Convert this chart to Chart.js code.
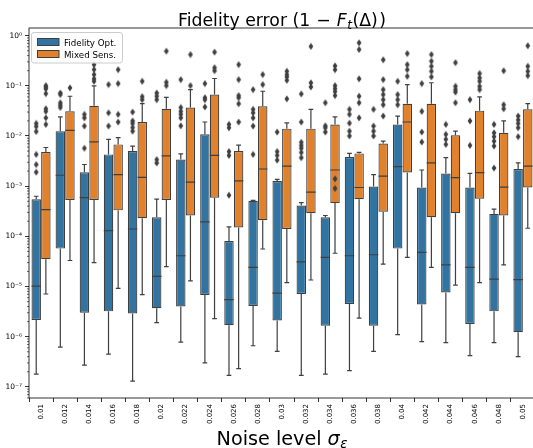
<!DOCTYPE html>
<html>
<head>
<meta charset="utf-8">
<script src="https://cdn.jsdelivr.net/npm/chart.js@4.4.1/dist/chart.umd.min.js"></script>
<style>
  html, body { margin: 0; padding: 0; background: #fff; overflow: hidden; }
  canvas { display: block; }
</style>
</head>
<body>
<canvas id="fidelityChart" width="536" height="448"></canvas>
<script>
// Noise levels (categories)
const noiseLevels = ["0.01", "0.012", "0.014", "0.016", "0.018", "0.02", "0.022", "0.024", "0.026", "0.028",
  "0.03", "0.032", "0.034", "0.036", "0.038", "0.04", "0.042", "0.044", "0.046", "0.048", "0.05"];

// Fidelity Opt. - box statistics
const fidLow = [1.8e-7, 6.2e-7, 2.7e-7, 4.5e-7, 1.3e-7, 1.9e-6, 7.8e-7, 3.0e-7, 1.7e-7, 6.6e-7,
  5.1e-7, 1.7e-7, 1.8e-7, 2.1e-7, 5.1e-7, 1.1e-6, 8.0e-7, 7.6e-7, 4.2e-7, 7.6e-7, 4.0e-7];
const fidQ1 = [2.15e-6, 5.7e-5, 3.0e-6, 3.2e-6, 2.9e-6, 3.7e-6, 4.0e-6, 6.8e-6, 1.7e-6, 4.1e-6,
  2.1e-6, 7.1e-6, 1.66e-6, 4.5e-6, 1.66e-6, 5.7e-5, 4.4e-6, 7.6e-6, 1.8e-6, 3.2e-6, 1.23e-6];
const fidMed = [1.02e-5, 1.65e-3, 5.9e-4, 1.3e-4, 1.4e-4, 1.6e-5, 4.1e-5, 1.95e-4, 5.5e-6, 2.4e-5,
  7.4e-6, 3.1e-5, 3.8e-5, 4.1e-5, 4.3e-5, 2.45e-3, 4.8e-5, 2.7e-5, 2.4e-5, 1.4e-5, 1.37e-5];
const fidQ3 = [5.5e-4, 0.0125, 1.9e-3, 4.3e-3, 5.0e-3, 2.4e-4, 3.4e-3, 0.0108, 8.1e-5, 5.1e-4,
  1.27e-3, 4.1e-4, 2.4e-4, 3.8e-3, 9.8e-4, 0.017, 9.4e-4, 1.78e-3, 9.4e-4, 2.8e-4, 2.2e-3];
const fidHigh = [6.3e-4, 0.024, 2.7e-3, 8.6e-3, 6.3e-3, 5.5e-4, 4.4e-3, 0.019, 1.55e-4, 5.2e-4,
  1.37e-3, 4.7e-4, 2.6e-4, 4.5e-3, 1.7e-3, 0.025, 2.1e-3, 3.7e-3, 1.8e-3, 3.5e-4, 2.9e-3];
const fidOutliers = [
  [0.0178, 0.0155, 0.0123, 0.0043, 0.0027, 0.0019],
  [0.072, 0.067, 0.046, 0.041, 0.037],
  [0.027, 0.023, 0.0158, 0.0057],
  [0.106, 0.029, 0.0158],
  [0.030, 0.020, 0.0178, 0.0148, 0.0125],
  [0.072, 0.062, 0.053, 0.0034, 0.0029],
  [0.133, 0.037, 0.031, 0.027, 0.023, 0.016],
  [0.111, 0.058, 0.053, 0.038],
  [0.017, 0.0146, 0.0049, 0.0041, 6.6e-4],
  [0.084, 0.034, 0.029, 0.023, 0.0158, 0.0043],
  [0.012, 0.0049, 0.0041, 0.0033],
  [0.069, 0.019, 0.0075, 0.0065, 0.0057, 0.0047, 0.0037],
  [0.046, 0.016, 0.0146, 0.012],
  [0.034, 0.027, 0.018, 0.0125, 0.010],
  [0.034, 0.0158, 0.0125, 0.010],
  [0.123, 0.067, 0.053, 0.042],
  [0.111, 0.031, 0.012, 0.0076],
  [0.017, 0.0108, 0.0086, 0.0068],
  [0.053, 0.020, 0.0065],
  [0.017, 0.0116, 0.0097, 0.0079, 0.0063, 0.0023],
  [0.025, 0.021, 0.0178, 0.0146, 0.0097]
];

// Mixed Sens. - box statistics
const mixLow = [7.1e-6, 3.3e-5, 3.0e-5, 9.2e-6, 6.9e-6, 2.5e-5, 1.3e-5, 2.3e-6, 2.3e-7, 5.6e-5,
  1.2e-5, 1.35e-5, 4.6e-5, 2.35e-6, 2.8e-5, 3.8e-5, 2.4e-5, 1.07e-5, 1.2e-5, 2.7e-5, 1.45e-4];
const mixQ1 = [3.5e-5, 5.3e-4, 5.3e-4, 3.3e-4, 2.3e-4, 5.3e-4, 2.6e-4, 5.9e-4, 1.5e-4, 2.1e-4,
  1.4e-4, 2.9e-4, 4.6e-4, 5.5e-4, 3.1e-4, 1.87e-3, 2.4e-4, 2.9e-4, 5.6e-4, 2.6e-4, 9.4e-4];
const mixMed = [3.4e-4, 0.0129, 7.6e-3, 1.7e-3, 1.5e-3, 4.0e-3, 1.2e-3, 4.1e-3, 1.27e-3, 2.2e-3,
  2.5e-3, 7.6e-4, 2.1e-3, 9.4e-4, 1.59e-3, 0.019, 2.9e-3, 1.48e-3, 1.87e-3, 9.6e-4, 2.5e-3];
const mixQ3 = [4.8e-3, 0.031, 0.040, 6.8e-3, 0.019, 0.035, 0.037, 0.067, 5.0e-3, 0.039,
  0.014, 0.014, 0.017, 4.5e-3, 7.1e-3, 0.044, 0.044, 0.0103, 0.032, 0.0116, 0.034];
const mixHigh = [5.9e-3, 0.062, 0.10, 9.3e-3, 0.044, 0.059, 0.084, 0.14, 6.6e-3, 0.078,
  0.0183, 0.034, 0.024, 4.7e-3, 7.9e-3, 0.106, 0.115, 0.0125, 0.060, 0.020, 0.044];
const mixOutliers = [
  [0.101, 0.095, 0.087, 0.070, 0.035, 0.031, 0.023, 0.017],
  [0.091],
  [0.265, 0.211, 0.168, 0.138, 0.123],
  [0.21, 0.111, 0.027, 0.019],
  [0.123, 0.061, 0.053],
  [0.49, 0.118, 0.101],
  [0.42, 0.101],
  [0.47, 0.23, 0.20],
  [0.265, 0.133, 0.064, 0.058, 0.044, 0.019],
  [0.168, 0.106],
  [0.195, 0.168, 0.151, 0.129, 0.055],
  [0.61, 0.115, 0.095],
  [0.25, 0.21, 0.101, 0.088, 0.077, 0.064, 0.0014, 9.0e-4],
  [0.72, 0.53, 0.138, 0.062, 0.046, 0.023],
  [0.33, 0.133, 0.084, 0.067, 0.053, 0.042, 0.025],
  [0.44, 0.265, 0.21, 0.155],
  [0.42, 0.31, 0.245, 0.195, 0.151],
  [0.29, 0.098, 0.084, 0.075, 0.046],
  [0.176, 0.144, 0.123, 0.098, 0.084],
  [0.20, 0.042, 0.035],
  [0.63, 0.245, 0.195, 0.16]
];

// y axis decades
const decadeExps = [-7, -6, -5, -4, -3, -2, -1, 0];

const BLUE = "#3274a1";
const ORANGE = "#e1812c";
const LINE_GRAY = "#3f3f3f";
const FONT = "'DejaVu Sans', sans-serif";
const HUE_SHIFT = 0.2; // seaborn dodge: each hue box is 0.4 of a category

Chart.defaults.font.family = FONT;
Chart.defaults.color = "#000";

// thin diamond marker like matplotlib "d"
function thinDiamond() {
  const c = document.createElement("canvas");
  c.width = 6;
  c.height = 8;
  const g = c.getContext("2d");
  g.fillStyle = LINE_GRAY;
  g.beginPath();
  g.moveTo(3, 0.6);
  g.lineTo(5.4, 4);
  g.lineTo(3, 7.4);
  g.lineTo(0.6, 4);
  g.closePath();
  g.fill();
  return c;
}
const diamond = thinDiamond();

const SUP = { "-": "\u207b", "0": "\u2070", "1": "\u00b9", "2": "\u00b2", "3": "\u00b3", "4": "\u2074",
  "5": "\u2075", "6": "\u2076", "7": "\u2077", "8": "\u2078", "9": "\u2079" };
function sup(n) {
  return String(n).split("").map((ch) => SUP[ch]).join("");
}

function boxData(q1, q3, shift) {
  return q1.map((q, i) => ({ x: i + shift, y: [q, q3[i]] }));
}

function outlierPoints(outs, shift) {
  const pts = [];
  outs.forEach((vals, i) => vals.forEach((v) => pts.push({ x: i + shift, y: v })));
  return pts;
}

// draw text made of pieces (italic, subscript, extra spacing)
function drawPieces(ctx, pieces, cx, baseline) {
  let total = 0;
  pieces.forEach((p) => {
    ctx.font = p.font;
    p.w = ctx.measureText(p.t).width;
    total += (p.pre || 0) + p.w + (p.gap || 0);
  });
  let x = cx - total / 2;
  ctx.textAlign = "left";
  ctx.textBaseline = "alphabetic";
  pieces.forEach((p) => {
    x += p.pre || 0;
    ctx.font = p.font;
    ctx.fillText(p.t, x, baseline + (p.dy || 0));
    x += p.w + (p.gap || 0);
  });
}

const boxPlugin = {
  id: "boxDecor",
  afterDatasetsDraw(chart) {
    const ctx = chart.ctx;
    const yScale = chart.scales.y;
    const groups = [
      { meta: chart.getDatasetMeta(0), lo: fidLow, q1: fidQ1, med: fidMed, q3: fidQ3, hi: fidHigh },
      { meta: chart.getDatasetMeta(1), lo: mixLow, q1: mixQ1, med: mixMed, q3: mixQ3, hi: mixHigh }
    ];
    ctx.save();
    ctx.strokeStyle = LINE_GRAY;
    ctx.lineWidth = 1.2;
    groups.forEach((g) => {
      g.meta.data.forEach((bar, i) => {
        const { x, width } = bar.getProps(["x", "width"], true);
        const yLo = yScale.getPixelForValue(g.lo[i]);
        const yQ1 = yScale.getPixelForValue(g.q1[i]);
        const yMed = yScale.getPixelForValue(g.med[i]);
        const yQ3 = yScale.getPixelForValue(g.q3[i]);
        const yHi = yScale.getPixelForValue(g.hi[i]);
        const cap = width / 4;
        ctx.beginPath();
        ctx.moveTo(x, yQ3);
        ctx.lineTo(x, yHi);
        ctx.moveTo(x - cap, yHi);
        ctx.lineTo(x + cap, yHi);
        ctx.moveTo(x, yQ1);
        ctx.lineTo(x, yLo);
        ctx.moveTo(x - cap, yLo);
        ctx.lineTo(x + cap, yLo);
        ctx.moveTo(x - width / 2, yMed);
        ctx.lineTo(x + width / 2, yMed);
        ctx.stroke();
      });
    });
    ctx.restore();
  },
  afterDraw(chart) {
    const ctx = chart.ctx;
    const area = chart.chartArea;
    const yScale = chart.scales.y;
    ctx.save();

    // minor ticks on the log axis
    ctx.strokeStyle = "#000";
    ctx.lineWidth = 0.6;
    ctx.beginPath();
    decadeExps.concat([-8]).forEach((e) => {
      for (let m = 2; m <= 9; m++) {
        const v = m * Math.pow(10, e);
        if (v < yScale.min || v > yScale.max) continue;
        const py = yScale.getPixelForValue(v);
        ctx.moveTo(area.left, py);
        ctx.lineTo(area.left - 2, py);
      }
    });
    ctx.stroke();

    // frame
    ctx.strokeStyle = "#000";
    ctx.lineWidth = 0.8;
    ctx.strokeRect(area.left, area.top, area.right - area.left, area.bottom - area.top);

    // legend
    ctx.fillStyle = "rgba(255,255,255,0.8)";
    ctx.strokeStyle = "#cccccc";
    ctx.lineWidth = 1;
    ctx.beginPath();
    ctx.roundRect(31.5, 32.5, 91, 30.5, 2.5);
    ctx.fill();
    ctx.stroke();
    const items = chart.data.datasets.slice(0, 2);
    items.forEach((ds, k) => {
      const top = 38.5 + k * 12;
      ctx.fillStyle = ds.backgroundColor;
      ctx.fillRect(37.5, top, 21.5, 7);
      ctx.strokeStyle = LINE_GRAY;
      ctx.lineWidth = 1;
      ctx.strokeRect(37.5, top, 21.5, 7);
      ctx.fillStyle = "#000";
      ctx.font = "8.7px " + FONT;
      ctx.textAlign = "left";
      ctx.textBaseline = "alphabetic";
      ctx.fillText(ds.label, 64, top + 7);
    });

    // title
    ctx.fillStyle = "#000";
    const cx = (area.left + area.right) / 2;
    drawPieces(ctx, [
      { t: "Fidelity error (1", font: "17.3px " + FONT },
      { t: "\u2212", font: "17.3px " + FONT, pre: 6, gap: 6 },
      { t: "F", font: "italic 17.3px " + FONT, gap: 0.5 },
      { t: "t", font: "italic 12.2px " + FONT, dy: 3, gap: 0.5 },
      { t: "(\u0394)", font: "17.3px " + FONT },
      { t: ")", font: "17.3px " + FONT, pre: 1.5 }
    ], cx, 26);

    // x axis title
    drawPieces(ctx, [
      { t: "Noise level", font: "19.2px " + FONT },
      { t: "\u03c3", font: "italic 19.2px " + FONT, pre: 6, gap: 0.5 },
      { t: "\u03b5", font: "italic 13.4px " + FONT, dy: 3.5 }
    ], cx, 444.5);

    ctx.restore();
  }
};

const ctx = document.getElementById("fidelityChart");
new Chart(ctx, {
  type: "bar",
  data: {
    datasets: [
      {
        label: "Fidelity Opt.",
        data: boxData(fidQ1, fidQ3, -HUE_SHIFT),
        backgroundColor: BLUE,
        borderColor: LINE_GRAY,
        borderWidth: 1.2,
        borderSkipped: false,
        grouped: false,
        categoryPercentage: 1,
        barPercentage: 0.98,
        order: 2
      },
      {
        label: "Mixed Sens.",
        data: boxData(mixQ1, mixQ3, HUE_SHIFT),
        backgroundColor: ORANGE,
        borderColor: LINE_GRAY,
        borderWidth: 1.2,
        borderSkipped: false,
        grouped: false,
        categoryPercentage: 1,
        barPercentage: 0.98,
        order: 2
      },
      {
        type: "scatter",
        label: "fid outliers",
        data: outlierPoints(fidOutliers, -HUE_SHIFT),
        pointStyle: diamond,
        order: 1
      },
      {
        type: "scatter",
        label: "mix outliers",
        data: outlierPoints(mixOutliers, HUE_SHIFT),
        pointStyle: diamond,
        order: 1
      }
    ]
  },
  options: {
    responsive: false,
    animation: false,
    events: [],
    layout: { autoPadding: false, padding: { top: 28, right: 1, left: 0, bottom: 0 } },
    plugins: {
      legend: { display: false },
      tooltip: { enabled: false }
    },
    scales: {
      x: {
        type: "linear",
        min: -0.5,
        max: 20.5,
        offset: false,
        border: { display: false },
        grid: {
          drawOnChartArea: false,
          tickLength: 4,
          tickColor: "#000",
          tickWidth: 0.8
        },
        afterBuildTicks(scale) {
          scale.ticks = noiseLevels.map((_, i) => ({ value: i }));
        },
        ticks: {
          minRotation: 90,
          maxRotation: 90,
          autoSkip: false,
          padding: 2,
          color: "#000",
          font: { size: 7 },
          callback: (value) => noiseLevels[value]
        },
        afterFit(scale) {
          scale.height = 50;
          scale.paddingLeft = 0;
          scale.paddingRight = 0;
        }
      },
      y: {
        type: "logarithmic",
        min: 6.3e-8,
        max: 1.42,
        border: { display: false },
        grid: {
          drawOnChartArea: false,
          tickLength: 4,
          tickWidth: 0.8,
          tickColor: "#000"
        },
        afterBuildTicks(scale) {
          scale.ticks = decadeExps.map((e) => ({ value: Math.pow(10, e) }));
        },
        ticks: {
          autoSkip: false,
          padding: 3,
          color: "#000",
          font: { size: 7.5 },
          callback: function (value) {
            const e = Math.round(Math.log10(value));
            return "10" + sup(e);
          }
        },
        afterFit(scale) {
          scale.width = 29;
          scale.paddingTop = 0;
          scale.paddingBottom = 0;
        }
      }
    }
  },
  plugins: [boxPlugin]
});
</script>
</body>
</html>
